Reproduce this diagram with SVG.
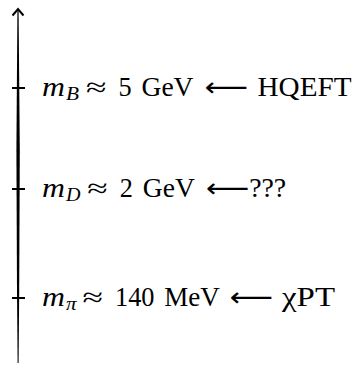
<svg xmlns="http://www.w3.org/2000/svg" width="353" height="366" viewBox="0 0 353 366">
<style>
.t{font-family:"Liberation Serif","DejaVu Serif",serif;font-size:26.3px;fill:#000}
.i{font-style:italic}
.s{font-size:18.4px}
.a{font-family:"DejaVu Sans",sans-serif;font-size:26px}
.tick{stroke:#000;stroke-width:2;fill:none}
</style>
<rect width="353" height="366" fill="#fff"/>
<g id="connectors">
<polygon points="17.4,11 18.6,11 19.8,150 19.2,290 18.6,363 17.6,363 17,290 16.4,150" fill="#000"/>
<polyline class="tick" points="12.5,15.5 18,9 23.5,15.5"/>
<line class="tick" x1="12" y1="88" x2="25" y2="88"/>
<line class="tick" x1="12" y1="189" x2="25" y2="189"/>
<line class="tick" x1="12" y1="298" x2="25" y2="298"/>
</g>
<g id="node-mB">
<text class="t i" x="42" y="96" textLength="23" lengthAdjust="spacingAndGlyphs">m</text>
<text class="t i s" x="66" y="100" textLength="13" lengthAdjust="spacingAndGlyphs">B</text>
<text class="t" x="86" y="96" textLength="20.5" lengthAdjust="spacingAndGlyphs">≈</text>
<text class="t" x="118.5" y="96">5</text>
<text class="t" x="141.5" y="96" textLength="52" lengthAdjust="spacingAndGlyphs">GeV</text>
<text class="a" x="204.5" y="96" textLength="43.4" lengthAdjust="spacingAndGlyphs">⟵</text>
<text class="t" x="257.5" y="96" textLength="94" lengthAdjust="spacingAndGlyphs">HQEFT</text>
</g>
<g id="node-mD">
<text class="t i" x="42" y="197" textLength="23" lengthAdjust="spacingAndGlyphs">m</text>
<text class="t i s" x="66" y="201" textLength="14.5" lengthAdjust="spacingAndGlyphs">D</text>
<text class="t" x="87.3" y="197" textLength="20.5" lengthAdjust="spacingAndGlyphs">≈</text>
<text class="t" x="119.8" y="197">2</text>
<text class="t" x="142.8" y="197" textLength="52" lengthAdjust="spacingAndGlyphs">GeV</text>
<text class="a" x="205.8" y="197" textLength="43.4" lengthAdjust="spacingAndGlyphs">⟵</text>
<text class="t" x="249.2" y="197" textLength="37" lengthAdjust="spacingAndGlyphs">???</text>
</g>
<g id="node-mpi">
<text class="t i" x="42" y="306" textLength="23" lengthAdjust="spacingAndGlyphs">m</text>
<text class="t i s" x="66" y="310" textLength="10.5" lengthAdjust="spacingAndGlyphs">π</text>
<text class="t" x="82.5" y="306" textLength="20.5" lengthAdjust="spacingAndGlyphs">≈</text>
<text class="t" x="115" y="306" textLength="39.5" lengthAdjust="spacingAndGlyphs">140</text>
<text class="t" x="164.2" y="306" textLength="55.5" lengthAdjust="spacingAndGlyphs">MeV</text>
<text class="a" x="229.5" y="306" textLength="43.4" lengthAdjust="spacingAndGlyphs">⟵</text>
<text class="t" x="282" y="306" textLength="53" lengthAdjust="spacingAndGlyphs">χPT</text>
</g>
</svg>
